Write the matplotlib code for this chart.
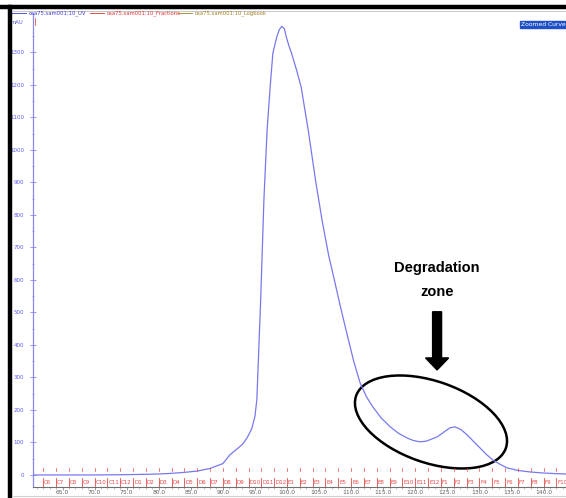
import numpy as np
import matplotlib.pyplot as plt
from matplotlib.patches import Ellipse, FancyArrow
import matplotlib.transforms as mtransforms

# UV trace (ml, mAU)
volume = [60.0, 65.0, 70.0, 75.0, 78.0, 80.0, 82.0, 84.0, 86.0, 88.0, 90.0, 91.1,
          92.2, 93.1, 93.8, 94.5, 95.0, 95.3, 95.9, 96.4, 96.9, 97.4, 97.8, 98.4,
          98.8, 99.2, 99.6, 99.9, 100.3, 100.7, 101.5, 102.2, 103.3, 104.5, 105.5,
          106.5, 107.5, 108.3, 109.4, 110.4, 111.4, 112.4, 113.4, 114.7, 116.1,
          117.4, 118.7, 119.7, 120.7, 121.7, 122.5, 123.4, 124.4, 125.4, 126.2,
          127.1, 128.1, 129.1, 130.1, 131.1, 132.1, 133.2, 134.3, 136.0, 138.0,
          140.0, 142.0, 143.5]
uv = [0, 0, 0, 1, 2, 3, 5, 8, 12, 20, 35, 62,
      80, 95, 115, 142, 180, 231, 540, 846, 1062, 1200, 1298, 1347,
      1370, 1380, 1372, 1347, 1320, 1298, 1245, 1194, 1062, 900, 780,
      675, 590, 520, 430, 350, 283, 240, 209, 175, 148,
      128, 114, 106, 102, 104, 110, 117, 131, 145, 148,
      140, 123, 103, 83, 63, 46, 33, 22, 14, 9,
      6, 4, 3]

# fractions, 2 ml each
frac_names = ['C6', 'C7', 'C8', 'C9', 'C10', 'C11', 'C12',
              'D1', 'D2', 'D3', 'D4', 'D5', 'D6', 'D7', 'D8', 'D9', 'D10', 'D11', 'D12',
              'E1', 'E2', 'E3', 'E4', 'E5', 'E6', 'E7', 'E8', 'E9', 'E10', 'E11', 'E12',
              'F1', 'F2', 'F3', 'F4', 'F5', 'F6', 'F7', 'F8', 'F9', 'F10']
frac_start = 62.0
frac_width = 2.0

y_ticks = list(range(0, 1400, 100))
x_ticks = [65.0, 70.0, 75.0, 80.0, 85.0, 90.0, 95.0, 100.0, 105.0, 110.0, 115.0,
           120.0, 125.0, 130.0, 135.0, 140.0]

legend_names = ['osa75.sam001:10_UV', 'osa75.sam001:10_Fractions', 'osa75.sam001:10_Logbook']
legend_colors = ['#3a3ad8', '#e03030', '#a08020']

W, H = 566, 498
fig = plt.figure(figsize=(W / 100, H / 100), dpi=100)
fig.patch.set_facecolor('white')

ax = fig.add_axes([33 / W, 11 / H, 1 - 33 / W, 474 / H])
ax.set_xlim(60.4, 143.5)
ax.set_ylim(-37, 1421)

blue = '#7878ee'
ax.plot(volume, uv, color=blue, lw=0.9)

# axes styling
for s in ['top', 'right']:
    ax.spines[s].set_visible(False)
ax.spines['left'].set_color('#8888f0')
ax.spines['left'].set_linewidth(0.9)
ax.spines['bottom'].set_color('#707070')
ax.spines['bottom'].set_linewidth(0.8)

ax.set_yticks(y_ticks)
ax.set_yticklabels([str(v) for v in y_ticks], fontsize=4, color='#5a5af0')
ax.set_yticks(np.arange(50, 1400, 100), minor=True)
ax.tick_params(axis='y', which='major', direction='inout', length=4, width=0.6,
               color='#8888f0', pad=4.5)
ax.tick_params(axis='y', which='minor', direction='inout', length=2, width=0.5,
               color='#8888f0')

ax.set_xticks(x_ticks)
ax.set_xticklabels(['%.1f' % v for v in x_ticks], fontsize=4.3, color='#606060')
ax.set_xticks(np.arange(61, 144, 1), minor=True)
ax.tick_params(axis='x', which='major', direction='out', length=2, width=0.5,
               color='#707070', pad=0.5)
ax.tick_params(axis='x', which='minor', direction='out', length=1.2, width=0.4,
               color='#909090')

# fraction row
trans = mtransforms.blended_transform_factory(ax.transData, ax.transAxes)
red = '#e84848'
for i, name in enumerate(frac_names):
    x0 = frac_start + i * frac_width
    ax.plot([x0, x0], [0.0, 0.018], color=red, lw=0.6, transform=trans, clip_on=False)
    ax.plot([x0, x0], [0.033, 0.04], color=red, lw=0.5, transform=trans, clip_on=False)
    ax.text(x0 + 0.15, 0.009, name, fontsize=4.0, color=red, transform=trans,
            ha='left', va='center')

ax.text(-0.03, 0.98, 'mAU', fontsize=3.8, color='#5a5af0', transform=ax.transAxes,
        ha='center', va='center')
ax.plot([0.004, 0.004], [0.975, 0.99], color='#e03030', lw=0.5, transform=ax.transAxes,
        clip_on=False)

# legend along the top
lx = [12, 90, 178]
for x, name, c in zip(lx, legend_names, legend_colors):
    fig.lines.append(plt.Line2D([x / W, (x + 14) / W], [1 - 13 / H] * 2, color=c, lw=0.6,
                                transform=fig.transFigure))
    fig.text((x + 17) / W, 1 - 13 / H, name, fontsize=3.8, color=c, ha='left',
             va='center', family='DejaVu Sans')

# top and left frame
fig.lines.append(plt.Line2D([0, 1], [1 - 7 / H] * 2, color='black', lw=3.2,
                            transform=fig.transFigure))
fig.lines.append(plt.Line2D([9.5 / W] * 2, [0, 1 - 7 / H], color='black', lw=3.2,
                            transform=fig.transFigure))
fig.lines.append(plt.Line2D([12 / W, 1], [1 - 11 / H] * 2, color='#b0b0b0', lw=0.5,
                            transform=fig.transFigure))
fig.lines.append(plt.Line2D([12 / W, 1], [2 / H] * 2, color='#d0d0d0', lw=0.8,
                            transform=fig.transFigure))

# zoomed curve badge
fig.text(521 / W, 1 - 24.5 / H, 'Zoomed Curve', fontsize=4.3, color='white',
         ha='left', va='center',
         bbox=dict(boxstyle='square,pad=0.25', fc='#2050c8', ec='#2050c8'))

# degradation zone annotation
txt_kw = dict(fontsize=10.5, fontweight='bold', ha='center', va='center',
              family=['Liberation Sans', 'DejaVu Sans'])
ax.text(123.4, 638, 'Degradation', **txt_kw)
ax.text(123.4, 563, 'zone', **txt_kw)
ax.add_patch(FancyArrow(123.4, 502, 0, -179, width=1.4, head_width=3.6,
                        head_length=37, length_includes_head=True,
                        fc='black', ec='black'))

cx, cy = 122.45, 163
ell = Ellipse((0, 0), width=158.6, height=81.4, angle=-19.3, fill=False, ec='black',
              lw=1.8,
              transform=mtransforms.IdentityTransform()
              + mtransforms.ScaledTranslation(cx, cy, ax.transData))
ax.add_patch(ell)

fig.savefig('out.png', dpi=100)
